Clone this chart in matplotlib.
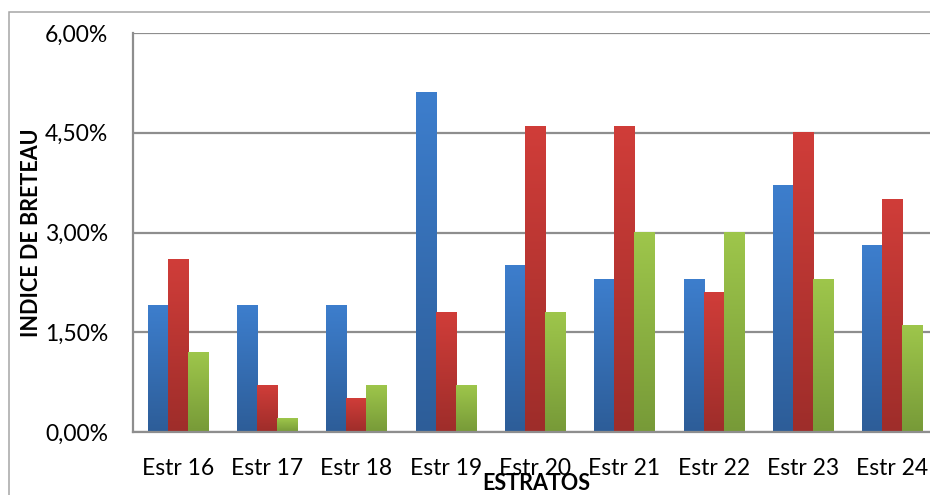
import matplotlib
matplotlib.use("Agg")
import matplotlib.pyplot as plt
import numpy as np
from matplotlib.patches import Rectangle
from matplotlib.colors import LinearSegmentedColormap

categories = ["Estr 16", "Estr 17", "Estr 18", "Estr 19", "Estr 20",
              "Estr 21", "Estr 22", "Estr 23", "Estr 24"]
serie_azul = [1.9, 1.9, 1.9, 5.1, 2.5, 2.3, 2.3, 3.7, 2.8]
serie_roja = [2.6, 0.7, 0.5, 1.8, 4.6, 4.6, 2.1, 4.5, 3.5]
serie_verde = [1.2, 0.2, 0.7, 0.7, 1.8, 3.0, 3.0, 2.3, 1.6]
y_ticks = [0.0, 1.5, 3.0, 4.5, 6.0]
y_ticklabels = ["0,00%", "1,50%", "3,00%", "4,50%", "6,00%"]

series = [serie_azul, serie_roja, serie_verde]
grads = [("#2D5D98", "#3D7ECD"), ("#9E2D2A", "#D03D39"), ("#779A38", "#9EC64B")]

plt.rcParams['font.family'] = ['Lato', 'DejaVu Sans']

fig = plt.figure(figsize=(9.3, 4.95), dpi=100)
ax = fig.add_axes([133/930, 63/495, 804/930, 399/495])

# outer chart frame
fig.patches.append(Rectangle((9/930, -0.1), 1.2, (495-11.5)/495 + 0.1,
                             transform=fig.transFigure, fill=False,
                             edgecolor="#A6A6A6", lw=1.1, zorder=0))

x = np.arange(len(categories))
w = 0.224
grad = np.linspace(0, 1, 256).reshape(-1, 1)
for i, (vals, (c0, c1)) in enumerate(zip(series, grads)):
    cmap = LinearSegmentedColormap.from_list(f"g{i}", [c0, c1])
    offs = (i - 1) * w
    for xi, v in zip(x, vals):
        x0 = xi + offs - w / 2
        # subtle shadow
        ax.add_patch(Rectangle((x0 + 0.012, 0), w, v, facecolor="#000000",
                               alpha=0.06, lw=0, zorder=2))
        ax.imshow(grad, extent=[x0, x0 + w, 0, v], origin="lower",
                  aspect="auto", cmap=cmap, zorder=3, interpolation="bicubic")

ax.set_xlim(-0.5, len(categories) - 0.5)
ax.set_ylim(0, 6.0)
ax.set_yticks(y_ticks)
ax.set_yticklabels(y_ticklabels)
ax.set_xticks(x)
ax.set_xticklabels(categories)
ax.tick_params(axis="both", length=0, labelsize=16.5, colors="black")
ax.tick_params(axis="y", pad=18)
ax.tick_params(axis="x", pad=19)
ax.yaxis.grid(True, color="#8E8E8E", lw=1.6)
ax.set_axisbelow(True)
for s in ["top", "right"]:
    ax.spines[s].set_visible(False)
ax.spines["left"].set_color("#8E8E8E")
ax.spines["left"].set_linewidth(1.6)
ax.spines["bottom"].set_color("#8E8E8E")
ax.spines["bottom"].set_linewidth(1.6)
ax.spines["bottom"].set_zorder(4)

fig.text(31/930, 1 - 233/495, "INDICE DE BRETEAU", rotation=90,
         ha="center", va="center", fontsize=15.5, fontweight="bold")
fig.text(536/930, 1 - 484/495, "ESTRATOS", ha="center", va="center",
         fontsize=15.5, fontweight="bold")

fig.savefig("out.png", dpi=100)
